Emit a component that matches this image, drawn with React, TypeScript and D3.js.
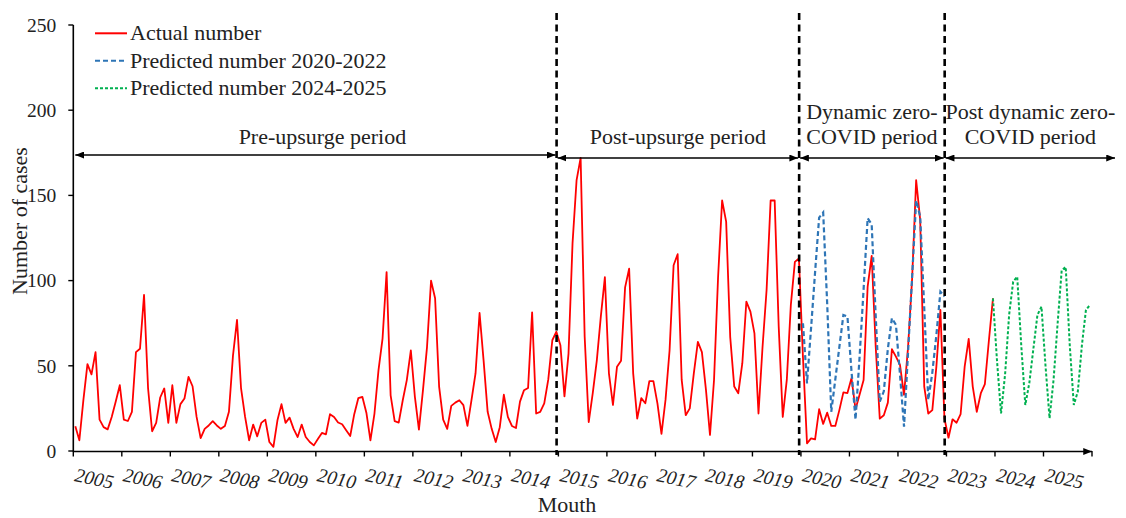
import React from "react";
import * as d3 from "d3";

// ---------- DATA ----------
const firstYear = 2005;
const yearLabels = ["2005","2006","2007","2008","2009","2010","2011","2012","2013","2014","2015","2016","2017","2018","2019","2020","2021","2022","2023","2024","2025"];
const yTicks = [0, 50, 100, 150, 200, 250];

// Actual monthly number of cases, Jan 2005 – Dec 2023 (one row per year)
const actualCases: number[][] = [
  [14.5, 6.3, 30, 51, 45, 58, 18.4, 14, 12.7, 20, 29, 38.6],
  [18.4, 17.6, 23, 58, 60, 91.6, 36.7, 11.6, 16.5, 31.4, 36.7, 16.5],
  [38.6, 16.5, 27.5, 30.8, 43.5, 38, 20, 7.6, 13, 15, 17.5, 15],
  [13, 14.7, 23, 56, 76.9, 36.7, 20, 6.3, 15.5, 8.6, 16.5, 18.4],
  [5.3, 2.4, 18, 27.5, 16.5, 19.6, 13, 8.2, 15.5, 8.2, 5.3, 3.3],
  [7, 10.6, 9.8, 21.6, 20, 16.7, 15.7, 12.2, 8.8, 21.6, 31, 31.8],
  [22.5, 6.3, 22, 47.5, 66, 105, 32.7, 17.5, 16.7, 29.8, 41.6, 59],
  [31.8, 12.5, 35.7, 61, 100, 89.6, 37.6, 18.4, 13, 26.5, 28.4, 29.8],
  [26.9, 14.7, 29.8, 45.5, 81, 53, 23, 13, 5.3, 14, 33, 20],
  [14.7, 13.5, 29, 35.7, 37, 81.4, 22, 23, 28, 42, 65, 70],
  [62, 32, 57, 122, 159, 172, 67, 17, 34, 53, 79, 102],
  [45.6, 27, 49.5, 53, 96, 107, 45.6, 19, 31, 28, 41, 41],
  [28, 10, 30, 59, 109, 115.5, 41.7, 21, 25, 45.6, 64, 58],
  [36, 9.4, 41.7, 102, 147, 134.6, 67, 37.8, 33.9, 51.5, 87.7, 81.8],
  [69, 22, 61, 94.5, 147, 147, 73, 20, 41.7, 85.7, 111, 113],
  [55, 4.5, 7.4, 6.8, 24.5, 15.9, 22.5, 14.7, 14.7, 24, 34.4, 34],
  [42.7, 24.5, 33, 41.7, 96.5, 114.5, 61, 19, 21, 28.4, 59.7, 55.4],
  [50.5, 33, 61, 101, 159, 135.6, 37.8, 22, 24, 49.5, 82.8, 19],
  [7.8, 18.6, 16.6, 21.7, 49.5, 65.8, 37.8, 23, 33.9, 39.3, 65, 89.6],
];

// Predicted number 2020-2022 (Jan 2020 – Dec 2022)
const predicted2020Start = 2020;
const predicted2020: number[] = [
  75, 39.7, 72, 105, 137, 140, 86, 23, 42, 61, 79.8, 79,
  47, 18.4, 55, 95, 136.6, 133, 79, 29, 35, 60, 78, 74,
  45, 14.3, 58, 102, 147, 137.6, 84, 30, 46, 68, 93.5, 90.6,
];

// Predicted number 2024-2025 (starts from Dec 2023 actual value)
const predicted2024StartYear = 2023;
const predicted2024StartMonth = 11; // December
const predicted2024: number[] = [
  89.6,
  53, 22, 45, 80, 99.4, 102.3, 62, 27, 40, 60, 79.8, 84.7,
  50, 19.2, 42, 75, 106, 108, 62, 27, 35, 62, 82.8, 85.7,
];

const legendItems = ["Actual number", "Predicted number 2020-2022", "Predicted number 2024-2025"];

// Periods: [start year, end year, label lines]
const periodStarts = [2005, 2015, 2020, 2023];
const periodEnds = [2015, 2020, 2023, 2026];
const periodLabels = [["Pre-upsurge period"], ["Post-upsurge period"], ["Dynamic zero-", "COVID period"], ["Post dynamic zero-", "COVID period"]];
const dividerYears = [2015, 2020, 2023];

// ---------- LAYOUT ----------
const W = 1126, H = 518;
const X0 = 73.3, X1 = 1092;
const Y0 = 451, Y1 = 25;
const FONT = "'Liberation Serif', 'Times New Roman', serif";
const RED = "#ff0000", BLUE = "#2e75b6", GREEN = "#00b050";

export default function App() {
  const nMonths = yearLabels.length * 12;
  const x = d3.scaleLinear().domain([0, nMonths]).range([X0, X1]);
  const y = d3.scaleLinear().domain([0, 250]).range([Y0, Y1]);
  const monthOf = (yr: number) => (yr - firstYear) * 12;
  const px = (m: number) => x(m + 0.5);

  const line = d3.line<[number, number]>().x(d => px(d[0])).y(d => y(d[1]));

  const actualPts: [number, number][] = actualCases.flat().map((v, i) => [i, v]);
  const bluePts: [number, number][] = predicted2020.map((v, i) => [monthOf(predicted2020Start) + i, v]);
  const greenPts: [number, number][] = predicted2024.map((v, i) => [monthOf(predicted2024StartYear) + predicted2024StartMonth + i, v]);

  const xTickMonths = d3.range(0, nMonths + 1, 12);

  return (
    <svg width={W} height={H} style={{ position: "absolute", left: 0, top: 0, background: "#fff" }} fontFamily={FONT}>
      <defs>
        <marker id="ah" viewBox="0 0 10 8" refX="10" refY="4" markerWidth="9" markerHeight="7" markerUnits="userSpaceOnUse" orient="auto-start-reverse">
          <path d="M0,0 L10,4 L0,8 z" fill="#000" />
        </marker>
      </defs>

      {/* Y axis */}
      <line x1={X0} x2={X0} y1={Y0 + 0.5} y2={y(250)} stroke="#000" strokeWidth={1.6} />
      {yTicks.map(t => (
        <g key={t}>
          <line x1={X0 - 5} x2={X0} y1={y(t)} y2={y(t)} stroke="#000" strokeWidth={1.4} />
          <text x={X0 - 17} y={y(t)} dy="0.35em" textAnchor="end" fontSize={19.5} fill="#222">{t}</text>
        </g>
      ))}
      <text transform={`translate(27,221) rotate(-90)`} textAnchor="middle" fontSize={22} fill="#222">Number of cases</text>

      {/* X axis */}
      <line x1={X0} x2={X1} y1={Y0 + 0.5} y2={Y0 + 0.5} stroke="#000" strokeWidth={1.6} markerEnd="url(#ah)" />
      {xTickMonths.map(m => (
        <line key={m} x1={x(m)} x2={x(m)} y1={Y0} y2={Y0 + 5.5} stroke="#000" strokeWidth={1.4} />
      ))}
      {yearLabels.map((lab, i) => (
        <text key={lab} transform={`translate(${x(i * 12) + 0.5},${481}) rotate(12)`} fontSize={19.5} fontStyle="italic" fill="#222">{lab}</text>
      ))}
      <text x={567} y={512} textAnchor="middle" fontSize={22} fill="#222">Mouth</text>

      {/* Series */}
      <path d={line(actualPts) || ""} fill="none" stroke={RED} strokeWidth={1.8} strokeLinejoin="round" />
      <path d={line(bluePts) || ""} fill="none" stroke={BLUE} strokeWidth={2.2} strokeDasharray="5,3" />
      <path d={line(greenPts) || ""} fill="none" stroke={GREEN} strokeWidth={2} strokeDasharray="3,2" />

      {/* Divider dashed lines */}
      {dividerYears.map(yr => (
        <line key={yr} x1={x(monthOf(yr)) - 1.8} x2={x(monthOf(yr)) - 1.8} y1={13} y2={455} stroke="#000" strokeWidth={2.6} strokeDasharray="7,4.5" />
      ))}

      {/* Period arrows and labels */}
      {periodStarts.map((s, i) => {
        const xa = i === 0 ? X0 + 1 : x(monthOf(s)) - 1.8;
        const xb = i === periodStarts.length - 1 ? 1116 : x(monthOf(periodEnds[i])) - 1.8;
        const cx = (xa + xb) / 2 + (i === 0 ? 7 : 0);
        const ay = i === 0 ? 155 : 158;
        const lines = periodLabels[i];
        return (
          <g key={s}>
            <line x1={xa + 1} x2={xb - 1} y1={ay} y2={ay} stroke="#000" strokeWidth={1.6} markerStart="url(#ah)" markerEnd="url(#ah)" />
            {lines.map((t, j) => (
              <text key={j} x={cx} y={144 - (lines.length - 1 - j) * 25} textAnchor="middle" fontSize={22} fill="#222">{t}</text>
            ))}
          </g>
        );
      })}

      {/* Legend */}
      {legendItems.map((lab, i) => {
        const ly = 33.3 + i * 27.5;
        const stroke = [RED, BLUE, GREEN][i];
        const dash = [undefined, "5,3", "3,2"][i];
        return (
          <g key={lab}>
            <line x1={95} x2={127} y1={ly} y2={ly} stroke={stroke} strokeWidth={2} strokeDasharray={dash} />
            <text x={130} y={ly + 7} fontSize={22} fill="#222">{lab}</text>
          </g>
        );
      })}
    </svg>
  );
}
